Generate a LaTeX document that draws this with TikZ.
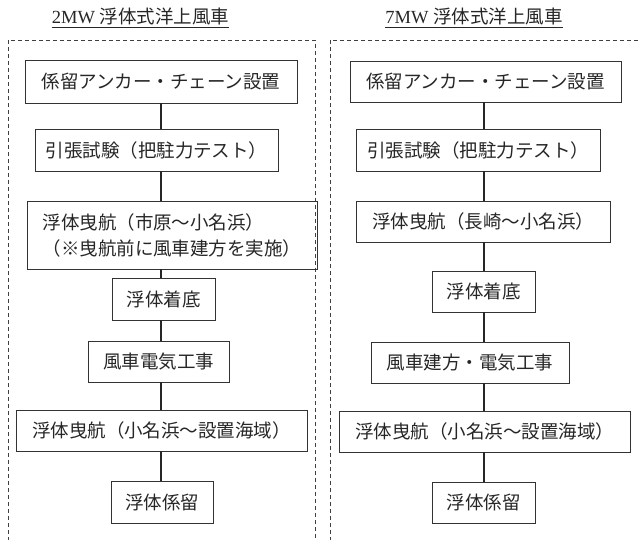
\documentclass[tikz,border=0pt]{standalone}
\usepackage{fontspec}
\setmainfont{Liberation Serif}
\newfontfamily\jp{Noto Sans CJK JP}
\begin{document}
\begin{tikzpicture}[x=1pt,y=-1pt,
  box/.style={draw=black!80, line width=0.8pt, inner sep=0pt, font=\jp\fontsize{18.5}{26}\selectfont, text=black!85},
  link/.style={line width=1.6pt, draw=black!85},
  frame/.style={draw=black!75, line width=0.7pt, dash pattern=on 4pt off 3pt},
  ttl/.style={inner sep=0pt, anchor=base, font=\fontsize{18.5}{22}\selectfont, text=black!85},
  uline/.style={line width=1pt, draw=black!85}]
\clip (0,0) rectangle (638,540);
\useasboundingbox (0,0) rectangle (638,540);

% frames
\draw[frame] (8,548) -- (8,40) -- (315,40) -- (315,548);
\draw[frame] (330,548) -- (330,40) -- (648,40);

% titles
\node[ttl] (T1) at (140.5,24) {2MW {\jp 浮体式洋上風車}};
\draw[uline] ([yshift=-4pt]T1.base west) -- ([yshift=-4pt]T1.base east);
\node[ttl] (T2) at (474,24) {7MW {\jp 浮体式洋上風車}};
\draw[uline] ([yshift=-4pt]T2.base west) -- ([yshift=-4pt]T2.base east);

% left column
\node[box, minimum width=272pt, minimum height=43pt] (L1) at (161,81.5) {係留アンカー・チェーン設置};
\node[box, minimum width=243pt, minimum height=42pt] (L2) at (156.5,150) {引張試験（把駐力テスト）};
\node[box, minimum width=290pt, minimum height=68pt, align=left] (L3) at (172,235) {浮体曳航（市原〜小名浜）\\（※曳航前に風車建方を実施）};
\node[box, minimum width=103pt, minimum height=42pt] (L4) at (163.5,299) {浮体着底};
\node[box, minimum width=141pt, minimum height=41pt] (L5) at (158.5,361.5) {風車電気工事};
\node[box, minimum width=291pt, minimum height=41pt] (L6) at (161.5,430.5) {浮体曳航（小名浜〜設置海域）};
\node[box, minimum width=102pt, minimum height=42pt] (L7) at (162,502) {浮体係留};

% right column
\node[box, minimum width=271pt, minimum height=41pt] (R1) at (485.5,81.5) {係留アンカー・チェーン設置};
\node[box, minimum width=244pt, minimum height=42pt] (R2) at (478,150) {引張試験（把駐力テスト）};
\node[box, minimum width=254pt, minimum height=41pt] (R3) at (483,221.5) {浮体曳航（長崎〜小名浜）};
\node[box, minimum width=103pt, minimum height=41pt] (R4) at (483.5,291.5) {浮体着底};
\node[box, minimum width=198pt, minimum height=41pt] (R5) at (470,362.5) {風車建方・電気工事};
\node[box, minimum width=291pt, minimum height=41pt] (R6) at (484.5,431.5) {浮体曳航（小名浜〜設置海域）};
\node[box, minimum width=103pt, minimum height=41pt] (R7) at (483.5,502.5) {浮体係留};

% connectors
\coordinate (lx) at (161,0);
\coordinate (rx) at (484,0);
\foreach \a/\b in {L1/L2,L2/L3,L3/L4,L4/L5,L5/L6,L6/L7}
  \draw[link] (\a.south -| lx) -- (\b.north -| lx);
\foreach \a/\b in {R1/R2,R2/R3,R3/R4,R4/R5,R5/R6,R6/R7}
  \draw[link] (\a.south -| rx) -- (\b.north -| rx);
\end{tikzpicture}
\end{document}
